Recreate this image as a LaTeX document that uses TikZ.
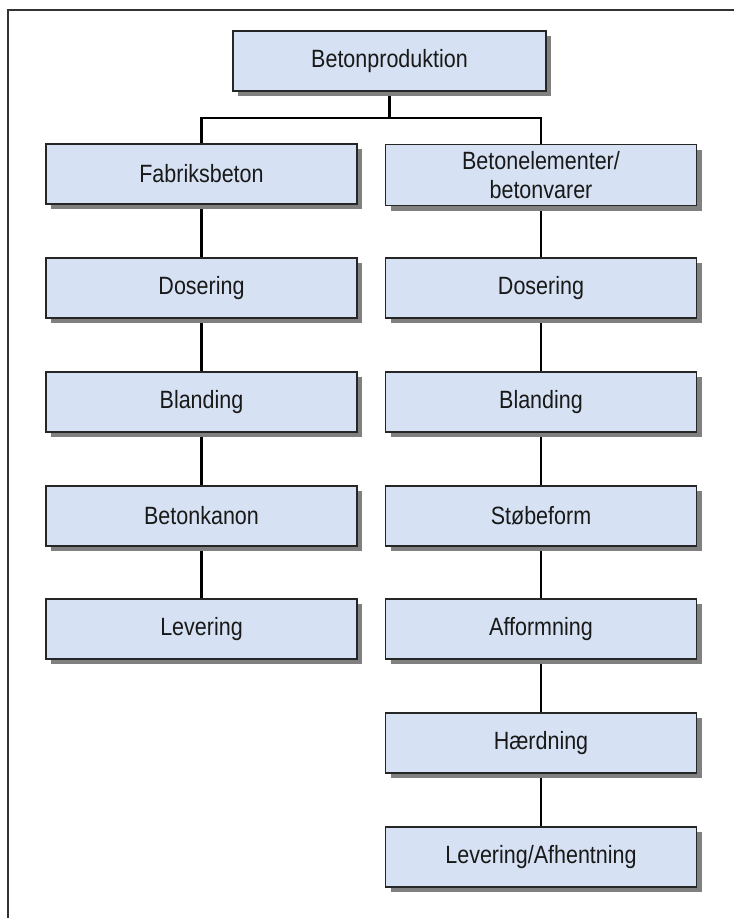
\documentclass[tikz,border=0pt]{standalone}
\usepackage{fontspec}
\setmainfont{Liberation Sans}[FakeStretch=0.86]
\usetikzlibrary{shadows,backgrounds}
\definecolor{boxfill}{RGB}{214,226,243}
\definecolor{shadowgray}{RGB}{128,128,128}
\definecolor{txt}{RGB}{25,25,25}
\tikzset{
  procbox/.style={draw=black!85, line width=1.2pt, fill=boxfill, minimum width=311pt, minimum height=60pt,
    inner sep=0pt, align=center, text=txt, font=\fontsize{25}{28.5}\selectfont,
    drop shadow={shadow xshift=5pt, shadow yshift=-5pt, fill=shadowgray, opacity=1}},
  link/.style={line width=2.6pt, black}
}
\begin{document}
\begin{tikzpicture}[x=1pt,y=-1pt]
\useasboundingbox (0,0) rectangle (734,918);
\draw[line width=2pt, black!80] (734,10) -- (8,10) -- (8,918);
\node[procbox, minimum width=313pt] (top) at (389.5,61) {Betonproduktion};
\node[procbox] (fab) at (201.5,174) {Fabriksbeton};
\node[procbox] (dos1) at (201.5,288) {Dosering};
\node[procbox] (bla1) at (201.5,402) {Blanding};
\node[procbox] (kan) at (201.5,516) {Betonkanon};
\node[procbox] (lev1) at (201.5,629) {Levering};
\node[procbox, minimum height=61pt] (bet) at (541,175) {Betonelementer/\\betonvarer};
\node[procbox] (dos2) at (541,288) {Dosering};
\node[procbox] (bla2) at (541,402) {Blanding};
\node[procbox] (sto) at (541,516) {Støbeform};
\node[procbox] (aff) at (541,629) {Afformning};
\node[procbox] (hae) at (541,743) {Hærdning};
\node[procbox] (lev2) at (541,857) {Levering/Afhentning};
\coordinate (bar) at (0,118);
\begin{scope}[on background layer]
\draw[link] (top.south) -- (top.south |- bar);
\draw[link] (fab.north) -- (fab.north |- bar) -- (bet.north |- bar) -- (bet.north);
\draw[link] (fab) -- (dos1);
\draw[link] (dos1) -- (bla1);
\draw[link] (bla1) -- (kan);
\draw[link] (kan) -- (lev1);
\draw[link] (bet) -- (dos2);
\draw[link] (dos2) -- (bla2);
\draw[link] (bla2) -- (sto);
\draw[link] (sto) -- (aff);
\draw[link] (aff) -- (hae);
\draw[link] (hae) -- (lev2);
\end{scope}
\end{tikzpicture}
\end{document}
